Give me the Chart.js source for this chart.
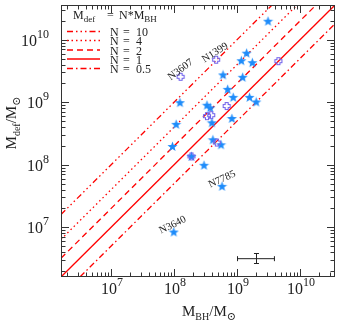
<!DOCTYPE html>
<html>
<head>
<meta charset="utf-8">
<script src="https://cdn.jsdelivr.net/npm/chart.js@4.4.0/dist/chart.umd.min.js"></script>
<style>
  body { margin: 0; background: #fff; }
  #wrap { width: 340px; height: 325px; }
</style>
</head>
<body>
<div id="wrap"><canvas id="myChart" width="340" height="325"></canvas></div>
<script>
// axis range (same on both axes)
const axisMin = 1.6e6;
const axisMax = 3.6e10;
const decadeTicks = [1e7, 1e8, 1e9, 1e10];
const decadeExps = ['7', '8', '9', '10'];

// model lines M_def = N * M_BH
const lineFactors = [10, 4, 2, 1, 0.5];
const lineNames = ['10', '4', '2', '1', '0.5'];

// galaxies with a core (stars)
const starMbh = [3.11e9, 1.42e9, 1.17e9, 1.75e9, 6.0e8, 1.23e9, 1.24e8, 7.10e8, 8.71e8, 1.58e9, 2.02e9, 3.33e8,
  3.75e8, 3.99e8, 8.30e8, 4.14e8, 5.57e8, 1.08e8, 9.44e7, 2.99e8, 5.78e8, 9.89e7, 1.89e8];
const starMdef = [1.98e10, 6.10e9, 4.62e9, 4.30e9, 2.74e9, 2.51e9, 9.86e8, 1.61e9, 1.20e9, 1.20e9, 1.01e9, 8.97e8,
  8.13e8, 4.70e8, 5.51e8, 2.51e8, 2.09e8, 4.43e8, 1.96e8, 9.82e7, 4.52e7, 8.39e6, 1.36e8];

// open crosses
const crossMbh = [6.85e8, 3.33e8, 3.89e8, 4.78e8, 1.89e8, 1.27e8, 4.66e8, 4.54e9];
const crossMdef = [8.71e8, 6.0e8, 6.22e8, 2.27e8, 1.36e8, 2.56e9, 4.79e9, 4.55e9];

// labelled galaxies
const namedGals = ['N3607', 'N1399', 'N7785', 'N3640'];
const namedMbh = [1.27e8, 4.66e8, 5.78e8, 9.89e7];
const namedMdef = [2.56e9, 4.79e9, 4.52e7, 8.39e6];

// typical error bar
const errMbh = 2e9, errMbhLo = 1e9, errMbhHi = 4e9;
const errMdef = 3.2e6, errMdefLo = 2.65e6, errMdefHi = 3.85e6;

// styles
const SERIF = '"Liberation Serif", "DejaVu Serif", serif';
const INK = '#222';
const lineDashes = [[6, 3, 1.5, 3, 1.5, 3, 1.5, 3], [1.5, 3], [6, 4], [], [6, 3, 1.5, 3]];
const labelShift = [[0, -7, -37], [-1, -7, -32], [0, -7, -25], [-1, -7, -26]];

function makeStar() {
  const c = document.createElement('canvas');
  c.width = 11; c.height = 11;
  const g = c.getContext('2d');
  g.beginPath();
  for (let i = 0; i < 10; i++) {
    const r = i % 2 === 0 ? 5.3 : 2.2;
    const a = -Math.PI / 2 + i * Math.PI / 5;
    const px = 5.5 + r * Math.cos(a), py = 5.8 + r * Math.sin(a);
    if (i === 0) g.moveTo(px, py); else g.lineTo(px, py);
  }
  g.closePath();
  g.fillStyle = 'rgb(30,140,250)';
  g.fill();
  return c;
}

function makeCross() {
  const c = document.createElement('canvas');
  c.width = 10; c.height = 10;
  const g = c.getContext('2d');
  const a = 1.5, b = 3.5, m = 5;
  g.beginPath();
  g.moveTo(m - a, m - b); g.lineTo(m + a, m - b); g.lineTo(m + a, m - a); g.lineTo(m + b, m - a);
  g.lineTo(m + b, m + a); g.lineTo(m + a, m + a); g.lineTo(m + a, m + b); g.lineTo(m - a, m + b);
  g.lineTo(m - a, m + a); g.lineTo(m - b, m + a); g.lineTo(m - b, m - a); g.lineTo(m - a, m - a);
  g.closePath();
  g.strokeStyle = 'rgb(115,100,235)';
  g.lineWidth = 1.1;
  g.stroke();
  return c;
}

function rich(ctx, parts, x, y, align) {
  let w = 0;
  parts.forEach(p => { ctx.font = p[1] + 'px ' + SERIF; w += ctx.measureText(p[0]).width; });
  let cx = align === 'center' ? x - w / 2 : align === 'right' ? x - w : x;
  ctx.textAlign = 'left';
  parts.forEach(p => {
    ctx.font = p[1] + 'px ' + SERIF;
    ctx.fillText(p[0], cx, y + p[2]);
    cx += ctx.measureText(p[0]).width;
  });
}

const framePlugin = {
  id: 'frame',
  afterDatasetsDraw(chart) {
    const ctx = chart.ctx;
    const xs = chart.scales.x, ys = chart.scales.y;
    const a = chart.chartArea;
    ctx.save();

    // typical error bar
    ctx.strokeStyle = INK;
    ctx.lineWidth = 1;
    const ex = xs.getPixelForValue(errMbh), ey = ys.getPixelForValue(errMdef);
    const exl = xs.getPixelForValue(errMbhLo), exh = xs.getPixelForValue(errMbhHi);
    const eyl = ys.getPixelForValue(errMdefLo), eyh = ys.getPixelForValue(errMdefHi);
    ctx.beginPath();
    ctx.moveTo(exl, ey + 0.5); ctx.lineTo(exh, ey + 0.5);
    ctx.moveTo(exl + 0.5, ey - 2); ctx.lineTo(exl + 0.5, ey + 3);
    ctx.moveTo(exh - 0.5, ey - 2); ctx.lineTo(exh - 0.5, ey + 3);
    ctx.moveTo(Math.round(ex) + 0.5, eyl); ctx.lineTo(Math.round(ex) + 0.5, eyh);
    ctx.moveTo(ex - 2, Math.round(eyl) + 0.5); ctx.lineTo(ex + 3, Math.round(eyl) + 0.5);
    ctx.moveTo(ex - 2, Math.round(eyh) + 0.5); ctx.lineTo(ex + 3, Math.round(eyh) + 0.5);
    ctx.stroke();

    // galaxy names
    ctx.fillStyle = INK;
    ctx.font = '10.5px ' + SERIF;
    ctx.textAlign = 'center';
    ctx.textBaseline = 'middle';
    namedGals.forEach((n, i) => {
      const px = xs.getPixelForValue(namedMbh[i]), py = ys.getPixelForValue(namedMdef[i]);
      const s = labelShift[i];
      ctx.save();
      ctx.translate(px + s[0], py + s[1]);
      ctx.rotate(s[2] * Math.PI / 180);
      ctx.fillText(n, 0, 0);
      ctx.restore();
    });
    ctx.textBaseline = 'alphabetic';

    // frame and ticks, inward on all sides
    ctx.strokeStyle = '#333';
    ctx.strokeRect(a.left + 0.5, a.top + 0.5, a.right - a.left - 1, a.bottom - a.top - 1);
    ctx.beginPath();
    for (let d = 6; d <= 10; d++) {
      for (let m = 1; m <= 9; m++) {
        const v = m * Math.pow(10, d);
        if (v < axisMin || v > axisMax) continue;
        const len = m === 1 ? 8 : 4.5;
        const px = Math.round(xs.getPixelForValue(v)) + 0.5;
        ctx.moveTo(px, a.bottom); ctx.lineTo(px, a.bottom - len);
        ctx.moveTo(px, a.top); ctx.lineTo(px, a.top + len);
        const py = Math.round(ys.getPixelForValue(v)) + 0.5;
        ctx.moveTo(a.left, py); ctx.lineTo(a.left + len, py);
        ctx.moveTo(a.right, py); ctx.lineTo(a.right - len, py);
      }
    }
    ctx.stroke();

    // tick labels
    ctx.fillStyle = INK;
    decadeTicks.forEach((v, i) => {
      rich(ctx, [['10', 16, 0], [decadeExps[i], 12, -8]], xs.getPixelForValue(v) + 1, 294, 'center');
      rich(ctx, [['10', 16, 0], [decadeExps[i], 12, -8]], 49, ys.getPixelForValue(v) + 6, 'right');
    });

    // axis titles
    rich(ctx, [['M', 15, 0], ['BH', 10, 4], ['/M', 15, 0], ['\u2299', 11, 4]], 209, 316, 'center');
    ctx.save();
    ctx.translate(16, 123);
    ctx.rotate(-Math.PI / 2);
    rich(ctx, [['M', 15, 0], ['def', 10, 4], ['/M', 15, 0], ['\u2299', 11, 4]], 0, 0, 'center');
    ctx.restore();

    // legend
    rich(ctx, [['M', 12, 0], ['def', 9, 3]], 73, 19, 'left');
    rich(ctx, [['=', 12, 0]], 107, 19, 'left');
    rich(ctx, [['N*M', 12, 0], ['BH', 9, 3]], 119, 19, 'left');
    const rowY = [31.5, 40.5, 50, 59, 68.5];
    lineFactors.forEach((n, i) => {
      ctx.strokeStyle = 'red';
      ctx.lineWidth = 1.3;
      ctx.setLineDash(lineDashes[i]);
      ctx.beginPath();
      ctx.moveTo(67, rowY[i]); ctx.lineTo(100, rowY[i]);
      ctx.stroke();
      ctx.setLineDash([]);
      rich(ctx, [['N', 12, 0]], 110, rowY[i] + 4.5, 'left');
      rich(ctx, [['=', 12, 0]], 123, rowY[i] + 4.5, 'left');
      rich(ctx, [[lineNames[i], 12, 0]], 136, rowY[i] + 4.5, 'left');
    });
    ctx.restore();
  }
};

const datasets = lineFactors.map((n, i) => ({
  type: 'line',
  label: 'N = ' + lineNames[i],
  data: [{x: axisMin, y: n * axisMin}, {x: axisMax, y: n * axisMax}],
  borderColor: 'red',
  borderWidth: 1.3,
  borderDash: lineDashes[i],
  pointRadius: 0,
  fill: false,
  order: 3
}));
datasets.push({
  type: 'scatter',
  label: 'stars',
  data: starMbh.map((x, i) => ({x: x, y: starMdef[i]})),
  pointStyle: makeStar(),
  order: 1
});
datasets.push({
  type: 'scatter',
  label: 'crosses',
  data: crossMbh.map((x, i) => ({x: x, y: crossMdef[i]})),
  pointStyle: makeCross(),
  order: 0
});

new Chart(document.getElementById('myChart').getContext('2d'), {
  type: 'scatter',
  data: {datasets: datasets},
  options: {
    responsive: false,
    animation: false,
    layout: {padding: {left: 61, right: 1, top: 2, bottom: 48}},
    plugins: {legend: {display: false}, tooltip: {enabled: false}},
    scales: {
      x: {type: 'logarithmic', min: axisMin, max: axisMax, display: false},
      y: {type: 'logarithmic', min: axisMin, max: axisMax, display: false}
    }
  },
  plugins: [framePlugin]
});
</script>
</body>
</html>
